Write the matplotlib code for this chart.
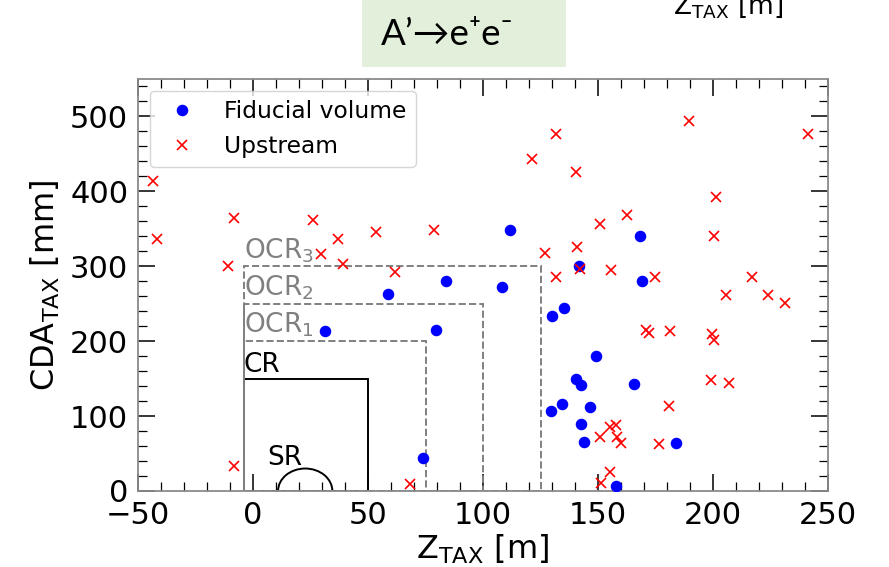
import matplotlib
matplotlib.use("Agg")
import matplotlib.pyplot as plt
from matplotlib.patches import Rectangle, Arc
from matplotlib.ticker import MultipleLocator

# Fiducial-volume events: Z_TAX [m], CDA_TAX [mm]
fid_z = [31.2, 58.7, 84.1, 108.4, 111.6, 141.7, 168.4, 169.1, 79.4, 73.7,
         130.2, 135.1, 149.3, 140.6, 142.6, 129.4, 134.5, 146.4, 142.5, 143.8,
         165.7, 183.8, 157.7]
fid_cda = [214, 263, 280, 272, 348, 300, 340, 280, 215, 44,
           233, 244, 180, 149, 142, 107, 116, 112, 89, 66,
           143, 64, 7]

# Upstream events: Z_TAX [m], CDA_TAX [mm]
up_z = [-43.3, -41.6, -8.1, -10.9, -8.4, 26.1, 29.4, 37.0, 39.0, 53.6,
        61.6, 78.7, 68.1, 121.5, 131.9, 140.6, 151.0, 126.8, 140.9, 131.6,
        142.0, 162.6, 155.8, 174.7, 189.4, 241.3, 201.2, 200.4, 217.1, 205.5,
        223.9, 231.2, 171.0, 172.2, 181.5, 199.7, 200.3, 199.0, 207.0, 180.7,
        176.5, 151.0, 155.1, 158.0, 158.3, 160.2, 155.1, 151.2]
up_cda = [414, 336, 365, 301, 34, 362, 316, 336, 303, 346,
          292, 349, 9, 443, 476, 426, 356, 318, 326, 286,
          297, 368, 295, 286, 494, 476, 393, 341, 286, 261,
          261, 251, 215, 211, 213, 209, 202, 148, 144, 113,
          63, 72, 86, 88, 72, 64, 26, 11]

# Region boundaries
region_z0 = -4.0
cr_z1, cr_cda = 50, 150
ocr_names = [r"OCR$_1$", r"OCR$_2$", r"OCR$_3$"]
ocr_z1 = [75, 100, 125]
ocr_cda = [200, 250, 300]
sr_center, sr_halfwidth, sr_height = 22.7, 11.8, 30

fig = plt.figure(figsize=(8.89, 5.67), dpi=100)
ax = fig.add_axes([138 / 889, 76 / 567, 690 / 889, 412 / 567])

ax.plot(fid_z, fid_cda, "o", color="blue", markersize=7.3, linestyle="none",
        label="Fiducial volume", zorder=3)
ax.plot(up_z, up_cda, "x", color="red", markersize=7, markeredgewidth=1.2,
        linestyle="none", label="Upstream", zorder=3)

# Control region and outer control regions
ax.add_patch(Rectangle((region_z0, 0), cr_z1 - region_z0, cr_cda, fill=False,
                       edgecolor="black", linewidth=1.4, zorder=2))
for name, z1, top in zip(ocr_names, ocr_z1, ocr_cda):
    ax.add_patch(Rectangle((region_z0, 0), z1 - region_z0, top, fill=False,
                           edgecolor="gray", linewidth=1.4, linestyle="--",
                           zorder=2))
    ax.text(region_z0, top + 11, name, color="gray", fontsize=19,
            ha="left", va="baseline")
ax.text(region_z0, cr_cda + 9, "CR", color="black", fontsize=19,
        ha="left", va="baseline")

# Signal region
ax.add_patch(Arc((sr_center, 0), 2 * sr_halfwidth, 2 * sr_height,
                 theta1=0, theta2=180, color="black", linewidth=1.4))
ax.text(6.0, 35, "SR", color="black", fontsize=19, ha="left", va="baseline")

ax.set_xlim(-50, 250)
ax.set_ylim(0, 550)
ax.xaxis.set_major_locator(MultipleLocator(50))
ax.xaxis.set_minor_locator(MultipleLocator(10))
ax.yaxis.set_major_locator(MultipleLocator(100))
ax.yaxis.set_minor_locator(MultipleLocator(20))
ax.tick_params(which="both", direction="in", top=True, right=True,
               labelsize=22, pad=7)
ax.tick_params(which="major", length=12, width=1.1, color="black")
ax.tick_params(which="minor", length=6.5, width=0.9, color="black")
for sp in ax.spines.values():
    sp.set_color("#8a8a8a")
    sp.set_linewidth(1.3)

ax.set_xlabel(r"Z$_{\mathrm{TAX}}$ [m]", fontsize=23, labelpad=2)
ax.set_ylabel(r"CDA$_{\mathrm{TAX}}$ [mm]", fontsize=23, labelpad=6)

ax.legend(loc="upper left", fontsize=16.8, frameon=True)

# Header box with the decay channel
fig.patches.append(Rectangle((362 / 889, 1 - 67 / 567), 204 / 889, 67 / 567,
                             transform=fig.transFigure, facecolor="#e2efda",
                             edgecolor="none", zorder=0))
fig.text(381 / 889, 1 - 45 / 567, "A’→e⁺e⁻", fontsize=26.5,
         family=["Lato", "DejaVu Sans"], ha="left", va="baseline")
fig.text(673 / 889, 1 - 13 / 567, r"Z$_{\mathrm{TAX}}$ [m]", fontsize=19,
         ha="left", va="baseline")

fig.savefig("out.png", dpi=100)
